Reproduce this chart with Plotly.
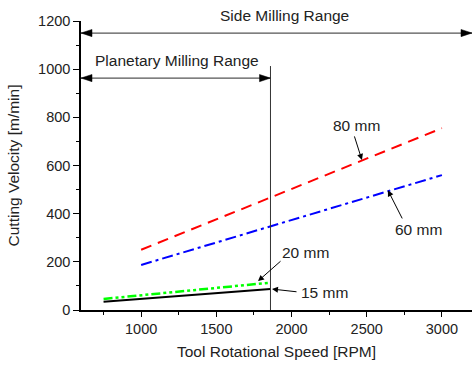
import plotly.graph_objects as go

# Data
x80 = [1000, 3000]
y80 = [250, 755]
x60 = [1000, 3000]
y60 = [187, 560]
x20 = [750, 1850]
y20 = [46, 113]
x15 = [750, 1860]
y15 = [34, 87]

x_ticks = [1000, 1500, 2000, 2500, 3000]
y_ticks = [0, 200, 400, 600, 800, 1000, 1200]

planetary_limit = 1860
side_arrow_y = 1150
planet_arrow_y = 963
x_min, x_max = 600, 3200

FONT = "Liberation Sans, Arial, sans-serif"
TXT = "#222222"
LBL = 15.5
TCK = 14.5

fig = go.Figure()
fig.add_trace(go.Scatter(x=x80, y=y80, mode="lines",
                         line=dict(color="#ff0000", width=2, dash="11px,7px")))
fig.add_trace(go.Scatter(x=x60, y=y60, mode="lines",
                         line=dict(color="#0000ff", width=2, dash="11px,4px,3px,4px")))
fig.add_trace(go.Scatter(x=x20, y=y20, mode="lines",
                         line=dict(color="#00ff00", width=2.5, dash="9px,3px,3px,3px,3px,3px")))
fig.add_trace(go.Scatter(x=x15, y=y15, mode="lines",
                         line=dict(color="#000000", width=2)))

shapes = []
# vertical line at planetary limit
shapes.append(dict(type="line", x0=planetary_limit, x1=planetary_limit, y0=0, y1=1013,
                   xref="x", yref="y", line=dict(color="#333333", width=1)))
# range arrow lines
shapes.append(dict(type="line", x0=x_min, x1=x_max, y0=side_arrow_y, y1=side_arrow_y,
                   xref="x", yref="y", line=dict(color="#555555", width=1.3)))
shapes.append(dict(type="line", x0=x_min, x1=planetary_limit, y0=planet_arrow_y, y1=planet_arrow_y,
                   xref="x", yref="y", line=dict(color="#555555", width=1.3)))


def head(xa, ya, direction):
    # direction: -1 pointing left, +1 pointing right
    L, H = 11, 3.6
    if direction < 0:
        path = f"M0,0 L{L},{H} L{L},{-H} Z"
    else:
        path = f"M0,0 L{-L},{H} L{-L},{-H} Z"
    return dict(type="path", xref="x", yref="y", xsizemode="pixel", ysizemode="pixel",
                xanchor=xa, yanchor=ya, path=path,
                fillcolor="#000000", line=dict(color="#000000", width=0.5))


shapes.append(head(x_min, side_arrow_y, -1))
shapes.append(head(x_max, side_arrow_y, +1))
shapes.append(head(x_min, planet_arrow_y, -1))
shapes.append(head(planetary_limit, planet_arrow_y, +1))

annotations = []
annotations.append(dict(x=1953, y=1.018, text="Side Milling Range", showarrow=False,
                        xref="x", yref="paper", yanchor="middle", xanchor="center",
                        font=dict(size=LBL, color=TXT, family=FONT)))
annotations.append(dict(x=1240, y=1034, text="Planetary Milling Range", showarrow=False,
                        xref="x", yref="y", yanchor="middle", xanchor="center",
                        font=dict(size=LBL, color=TXT, family=FONT)))

labels = [
    ("80 mm", 2435, 768, 2415, 727, 2468, 623),
    ("60 mm", 2841, 336, 2741, 374, 2641, 497),
    ("20 mm", 2096, 237, 1937, 208, 1777, 120),
    ("15 mm", 2222, 71, 2043, 75, 1870, 87),
]
for t, tx, ty, axx, ayy, px, py in labels:
    annotations.append(dict(x=tx, y=ty, text=t, showarrow=False, xref="x", yref="y",
                            yanchor="middle", xanchor="center",
                            font=dict(size=LBL, color=TXT, family=FONT)))
    annotations.append(dict(x=px, y=py, ax=axx, ay=ayy, axref="x", ayref="y",
                            xref="x", yref="y", text="", showarrow=True,
                            arrowhead=2, arrowsize=1.2, arrowwidth=1, arrowcolor="#000000"))

fig.update_layout(
    width=472, height=367,
    margin=dict(l=81, r=0, t=21, b=57, autoexpand=False),
    paper_bgcolor="white", plot_bgcolor="white",
    showlegend=False,
    font=dict(family=FONT, size=LBL, color=TXT),
    shapes=shapes, annotations=annotations,
)
fig.update_xaxes(
    range=[x_min, x_max], tickvals=x_ticks, ticks="outside", ticklen=5, tickwidth=1,
    tickcolor="#000", showline=True, linecolor="#000", linewidth=1.5,
    showgrid=False, zeroline=False, automargin=False,
    minor=dict(dtick=250, tick0=750, ticks="outside", ticklen=3, tickcolor="#000", showgrid=False),
    title=dict(text="Tool Rotational Speed [RPM]", font=dict(size=LBL, color=TXT), standoff=10),
    tickfont=dict(size=TCK, color=TXT),
)
fig.update_yaxes(
    range=[0, 1200], tickvals=y_ticks, ticks="outside", ticklen=6, tickwidth=1,
    tickcolor="#000", showline=True, linecolor="#000", linewidth=1.5,
    showgrid=False, zeroline=False, automargin=False,
    minor=dict(dtick=100, tick0=0, ticks="outside", ticklen=3, tickcolor="#000", showgrid=False),
    title=dict(text="Cutting Velocity [m/min]", font=dict(size=LBL, color=TXT), standoff=15),
    tickfont=dict(size=TCK, color=TXT),
)

fig.write_html("out.html", config={"displayModeBar": False},
               post_script="document.body.style.margin='0';")
